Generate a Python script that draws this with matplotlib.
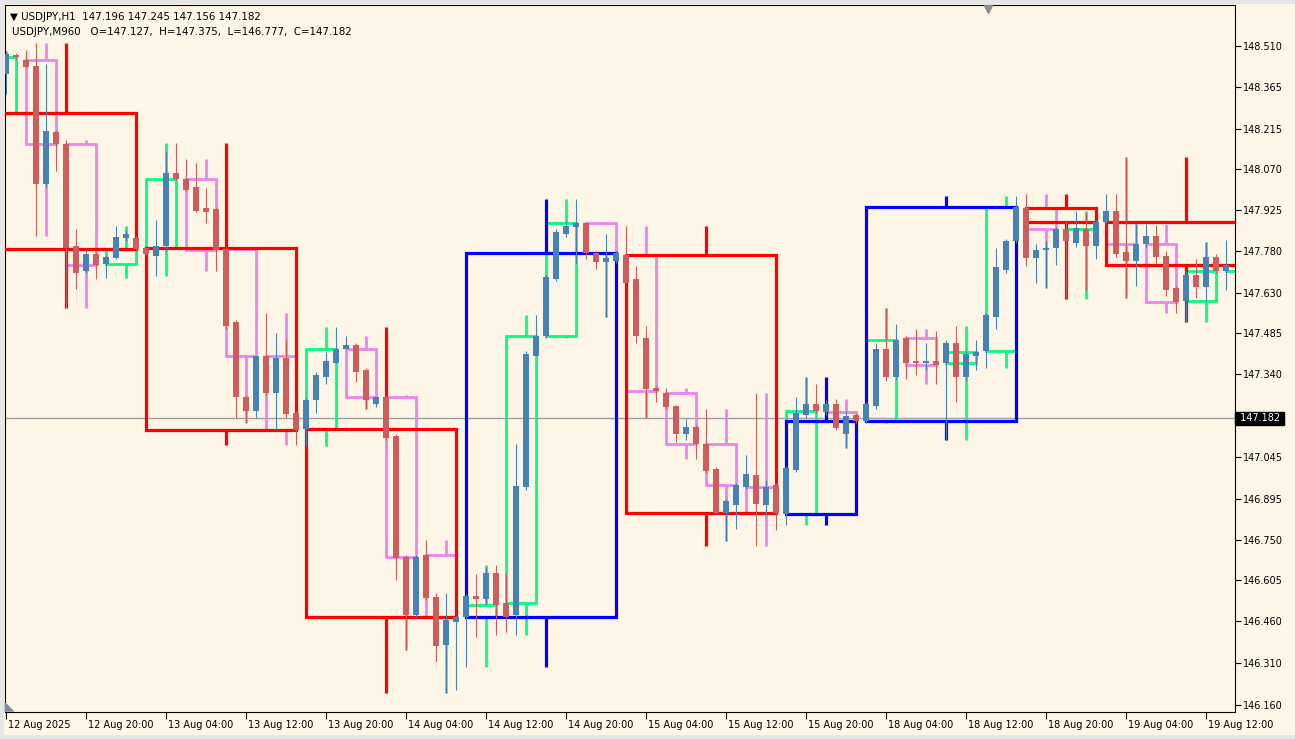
import numpy as np
import matplotlib.pyplot as plt
import matplotlib.transforms as mtransforms
from matplotlib.patches import Rectangle

# USDJPY H1 candles. index 0 is 12 Aug 12:00, the two first rows (-2, -1)
# sit just left of the visible window (needed for the first H4 / M960 box)
first_bar = -2
opens = [
    148.271, 148.328,
    148.410, 148.478, 148.460, 148.439, 148.019, 148.204, 148.161, 147.798,
    147.709, 147.769, 147.734, 147.755, 147.826, 147.826, 147.791, 147.762,
    147.798, 148.058, 148.036, 148.008, 147.933, 147.930, 147.787, 147.524,
    147.260, 147.210, 147.403, 147.274, 147.396, 147.200, 147.143, 147.246,
    147.331, 147.381, 147.431, 147.442, 147.353, 147.232, 147.257, 147.118,
    146.687, 146.480, 146.694, 146.545, 146.374, 146.456, 146.473, 146.548,
    146.537, 146.630, 146.523, 146.480, 146.936, 147.406, 147.477, 147.680,
    147.841, 147.866, 147.880, 147.773, 147.741, 147.744, 147.766, 147.680,
    147.470, 147.289, 147.274, 147.225, 147.128, 147.150, 147.089, 147.000,
    146.844, 146.872, 146.936, 146.979, 146.872, 146.943, 146.840, 146.997,
    147.193, 147.235, 147.203, 147.235, 147.128, 147.193, 147.171, 147.225,
    147.428, 147.328, 147.470, 147.385, 147.378, 147.385, 147.378, 147.452,
    147.328, 147.406, 147.424, 147.545, 147.712, 147.816, 147.933, 147.755,
    147.784, 147.791, 147.858, 147.809, 147.858, 147.798, 147.883, 147.922,
    147.777, 147.744, 147.805, 147.833, 147.762, 147.648, 147.602, 147.695,
    147.652, 147.759, 147.709,
]
highs = [
    148.332, 148.421,
    148.492, 148.485, 148.496, 148.521, 148.446, 148.211, 148.175, 147.858,
    147.784, 147.777, 147.766, 147.869, 147.855, 147.833, 147.794, 147.890,
    148.136, 148.165, 148.108, 148.093, 148.004, 147.937, 147.794, 147.531,
    147.267, 147.406, 147.559, 147.488, 147.460, 147.210, 147.253, 147.346,
    147.420, 147.509, 147.477, 147.452, 147.360, 147.260, 147.267, 147.125,
    146.694, 146.694, 146.747, 146.559, 146.559, 146.480, 146.555, 146.626,
    146.651, 146.658, 146.630, 147.089, 147.424, 147.552, 147.695, 147.858,
    147.887, 147.965, 147.883, 147.780, 147.841, 147.780, 147.869, 147.727,
    147.513, 147.296, 147.292, 147.228, 147.178, 147.157, 147.217, 147.007,
    146.893, 146.950, 147.050, 147.271, 146.961, 146.950, 147.011, 147.257,
    147.331, 147.306, 147.246, 147.250, 147.210, 147.200, 147.242, 147.452,
    147.577, 147.520, 147.477, 147.502, 147.452, 147.495, 147.463, 147.513,
    147.424, 147.463, 147.556, 147.791, 147.823, 147.976, 147.983, 147.805,
    147.816, 147.866, 147.887, 147.922, 147.915, 147.890, 147.983, 147.983,
    148.115, 147.876, 147.876, 147.873, 147.780, 147.655, 147.709, 147.752,
    147.812, 147.769, 147.819,
]
lows = [
    148.264, 148.314,
    148.339, 148.464, 148.432, 147.833, 148.008, 148.065, 147.574, 147.645,
    147.702, 147.680, 147.684, 147.752, 147.816, 147.780, 147.766, 147.691,
    147.780, 148.033, 147.994, 147.919, 147.880, 147.709, 147.502, 147.185,
    147.164, 147.182, 147.264, 147.139, 147.182, 147.086, 147.082, 147.200,
    147.306, 147.378, 147.428, 147.310, 147.217, 147.221, 147.104, 146.605,
    146.356, 146.473, 146.534, 146.313, 146.203, 146.213, 146.295, 146.402,
    146.516, 146.409, 146.420, 146.409, 146.926, 147.403, 147.467, 147.673,
    147.830, 147.737, 147.752, 147.716, 147.542, 147.737, 147.663, 147.452,
    147.185, 147.239, 147.214, 147.096, 147.104, 147.036, 146.986, 146.836,
    146.744, 146.787, 146.929, 146.726, 146.836, 146.783, 146.801, 146.990,
    147.185, 147.200, 147.193, 147.139, 147.075, 147.164, 147.164, 147.214,
    147.317, 147.321, 147.324, 147.335, 147.353, 147.306, 147.104, 147.239,
    147.317, 147.353, 147.360, 147.502, 147.702, 147.809, 147.727, 147.666,
    147.648, 147.730, 147.609, 147.794, 147.638, 147.752, 147.876, 147.759,
    147.613, 147.655, 147.794, 147.734, 147.620, 147.556, 147.524, 147.613,
    147.602, 147.702, 147.638,
]
closes = [
    148.328, 148.414,
    148.482, 148.471, 148.435, 148.019, 148.207, 148.161, 147.791, 147.702,
    147.769, 147.730, 147.759, 147.830, 147.841, 147.787, 147.769, 147.798,
    148.058, 148.036, 147.997, 147.922, 147.919, 147.784, 147.513, 147.257,
    147.207, 147.403, 147.271, 147.396, 147.196, 147.139, 147.246, 147.335,
    147.385, 147.431, 147.442, 147.349, 147.246, 147.257, 147.111, 146.683,
    146.480, 146.687, 146.541, 146.370, 146.463, 146.473, 146.548, 146.537,
    146.630, 146.516, 146.473, 146.940, 147.410, 147.477, 147.687, 147.848,
    147.869, 147.880, 147.773, 147.741, 147.755, 147.773, 147.666, 147.477,
    147.285, 147.278, 147.221, 147.128, 147.150, 147.089, 146.993, 146.844,
    146.886, 146.943, 146.982, 146.876, 146.936, 146.844, 147.004, 147.200,
    147.235, 147.207, 147.232, 147.146, 147.189, 147.171, 147.235, 147.428,
    147.328, 147.460, 147.378, 147.378, 147.385, 147.374, 147.452, 147.328,
    147.413, 147.420, 147.549, 147.723, 147.816, 147.937, 147.755, 147.784,
    147.791, 147.858, 147.816, 147.862, 147.798, 147.883, 147.922, 147.769,
    147.744, 147.805, 147.833, 147.759, 147.638, 147.598, 147.695, 147.652,
    147.759, 147.709, 147.730,
]

# higher timeframe periods (bar index of the first H1 bar in each)
h4_start, h4_len = -2, 4
m960_starts = [-2, 14, 30, 46, 62, 78, 86, 102, 110]
m960_len = 16

x_labels = ['12 Aug 2025', '12 Aug 20:00', '13 Aug 04:00', '13 Aug 12:00',
            '13 Aug 20:00', '14 Aug 04:00', '14 Aug 12:00', '14 Aug 20:00',
            '15 Aug 04:00', '15 Aug 12:00', '15 Aug 20:00', '18 Aug 04:00',
            '18 Aug 12:00', '18 Aug 20:00', '19 Aug 04:00', '19 Aug 12:00']
y_ticks = [148.510, 148.365, 148.215, 148.070, 147.925, 147.780, 147.630,
           147.485, 147.340, 147.045, 146.895, 146.750, 146.605, 146.460,
           146.310, 146.160]
last_price = 147.182

bg = '#FDF5E6'
plt.rcParams['font.family'] = 'DejaVu Sans'
plt.rcParams['font.size'] = 7

o = np.array(opens); h = np.array(highs); l = np.array(lows); c = np.array(closes)
idx = np.arange(first_bar, first_bar + len(o))


def draw_box(ax, i0, n, up_col, dn_col, lw, z):
    m = (idx >= i0) & (idx < i0 + n)
    bo, bc = o[m][0], c[m][-1]
    hi, lo = h[m].max(), l[m].min()
    col = up_col if bc >= bo else dn_col
    top, bot = max(bo, bc), min(bo, bc)
    ax.add_patch(Rectangle((i0, bot), n - 1, top - bot, fill=False,
                           edgecolor=col, lw=lw, zorder=z, joinstyle='miter'))
    xm = i0 + n // 2
    ax.vlines(xm, top, hi, color=col, lw=lw, zorder=z)
    ax.vlines(xm, lo, bot, color=col, lw=lw, zorder=z)


fig = plt.figure(figsize=(12.95, 7.39), dpi=100, facecolor=bg)
ax = fig.add_axes([5 / 1295, 27 / 739, 1230 / 1295, 707 / 739])
ax.set_facecolor(bg)

# window frame strips
for r in [(0, 0, 4 / 1295, 1), (0, 735 / 739, 1, 4 / 739), (0, 0, 1, 4 / 739)]:
    fig.patches.append(Rectangle(r[:2], r[2], r[3], transform=fig.transFigure,
                                 facecolor='#E6E6E6', edgecolor='none', zorder=-1))

# bid line
ax.axhline(last_price, color='#A0A0A0', lw=1.0, zorder=1)

# H4 boxes
s = h4_start
while s <= idx[-1]:
    draw_box(ax, s, h4_len, '#00FF7F', '#EE82EE', 2.0, 2)
    s += h4_len

# M960 boxes
for k, s in enumerate(m960_starts):
    n = m960_starts[k + 1] - s if k + 1 < len(m960_starts) else m960_len
    draw_box(ax, s, n, '#0000FF', '#FF0000', 2.3, 3)

# H1 candles
cols = np.where(c >= o, '#4682B4', '#CD5C5C')
ax.vlines(idx, l, h, colors=cols, lw=0.8, zorder=4)
ax.bar(idx, np.maximum(np.abs(c - o), 0.0036), bottom=np.minimum(o, c),
       width=0.68, color=cols, linewidth=0, zorder=5)

ax.set_xlim(-0.1, 122.9)
ax.set_ylim(146.135, 148.656)

ax.yaxis.tick_right()
ax.set_yticks(y_ticks)
ax.set_yticklabels([f'{v:.3f}' for v in y_ticks])
ax.tick_params(axis='y', direction='out', length=4, width=0.8, pad=2)
ax.set_xticks(np.arange(0, 8 * len(x_labels), 8))
ax.set_xticklabels(x_labels, ha='left')
ax.tick_params(axis='x', direction='out', length=5, width=0.8, pad=1)
off = mtransforms.ScaledTranslation(1.5 / 72, 0, fig.dpi_scale_trans)
for lab in ax.get_xticklabels():
    lab.set_transform(lab.get_transform() + off)
for sp in ax.spines.values():
    sp.set_color('black')
    sp.set_linewidth(0.8)

# bid price label on the right scale
tr = mtransforms.blended_transform_factory(ax.transAxes, ax.transData)
ax.text(1.0015, last_price, ' 147.182 ', transform=tr, ha='left', va='center',
        color='white', fontsize=7, clip_on=False, zorder=10,
        bbox=dict(facecolor='black', edgecolor='black', pad=1.0))

# chart shift marker and corner marker
ax.plot([(988 - 5) / 1230], [0.994], marker='v', ms=6, color='#8C8C8C',
        transform=ax.transAxes, clip_on=False, zorder=10)
ax.plot([0.003], [0.007], marker=[(-1, -1), (-1, 1), (1, -1)], ms=6,
        color='#7F8C99', transform=ax.transAxes, clip_on=False, zorder=10)

# header
fig.text(10 / 1295, 1 - 17 / 739, '\u25BC USDJPY,H1  147.196 147.245 147.156 147.182',
         va='center', ha='left', color='black', fontsize=7.4)
fig.text(12 / 1295, 1 - 32 / 739,
         'USDJPY,M960   O=147.127,  H=147.375,  L=146.777,  C=147.182',
         va='center', ha='left', color='black', fontsize=7.4)

fig.savefig('out.png', dpi=100, facecolor=bg)
